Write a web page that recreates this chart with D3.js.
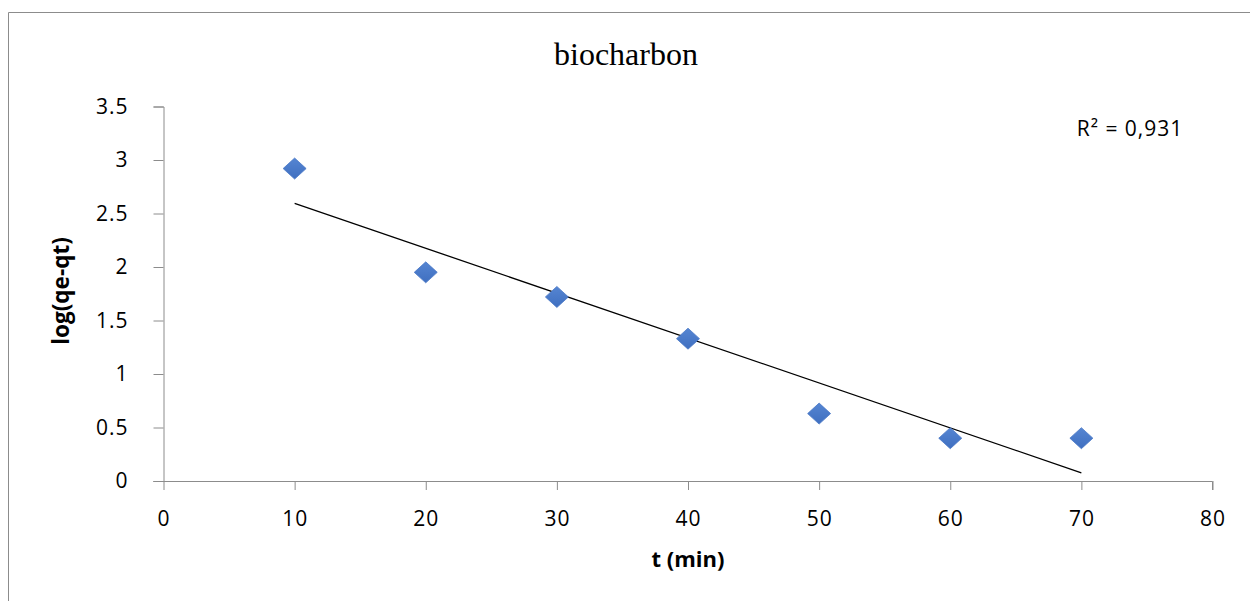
<!DOCTYPE html>
<html>
<head>
<meta charset="utf-8">
<script src="https://cdn.jsdelivr.net/npm/d3@7"></script>
<style>
  html, body { margin: 0; padding: 0; background: #fff; }
  svg { display: block; }
</style>
</head>
<body>
<svg id="chart" width="1250" height="601"></svg>
<script>
// Kinetic data: time (min) vs log(qe - qt)
const times = [10, 20, 30, 40, 50, 60, 70];
const logValues = [2.92, 1.95, 1.72, 1.33, 0.63, 0.40, 0.40];
const xTicks = [0, 10, 20, 30, 40, 50, 60, 70, 80];
const yTicks = [0, 0.5, 1, 1.5, 2, 2.5, 3, 3.5];
const titleText = "biocharbon";
const xLabel = "t (min)";
const yLabel = "log(qe-qt)";
const r2Text = "R² = 0,931";

const svg = d3.select("#chart");
const W = 1250, H = 601;
const plot = { left: 163.5, right: 1212.5, top: 106.5, bottom: 481 };

// Frame around the chart
svg.append("path")
  .attr("d", `M8.5,${H} V12.5 H${W}`)
  .attr("fill", "none").attr("stroke", "#8c8c8c").attr("stroke-width", 1);

const x = d3.scaleLinear().domain([0, 80]).range([plot.left, plot.right]);
const y = d3.scaleLinear().domain([0, 3.5]).range([plot.bottom, plot.top]);

const tickFont = "'Open Sans', 'Noto Sans', sans-serif";

// Axes
const xAxis = svg.append("g")
  .attr("transform", `translate(0,${plot.bottom})`)
  .call(d3.axisBottom(x).tickValues(xTicks).tickFormat(d3.format("d")).tickSizeOuter(0).tickSize(9).tickPadding(21));
const yAxis = svg.append("g")
  .attr("transform", `translate(${plot.left},0)`)
  .call(d3.axisLeft(y).tickValues(yTicks).tickFormat(d => String(d)).tickSizeOuter(0).tickSize(10).tickPadding(25));

[xAxis, yAxis].forEach(g => {
  g.select(".domain").attr("stroke", "#8c8c8c");
  g.selectAll(".tick line").attr("stroke", "#8c8c8c");
  g.selectAll(".tick text")
    .attr("fill", "#000")
    .style("font-family", tickFont)
    .style("font-size", "21px")
    .style("letter-spacing", "1px");
});
// x-axis line starts at the y-axis tick length
xAxis.select(".domain").attr("d", `M${plot.left - 10},0.5H${plot.right}V9`);

// Linear regression trendline
const n = times.length;
const mx = d3.mean(times), my = d3.mean(logValues);
let sxy = 0, sxx = 0;
for (let i = 0; i < n; i++) {
  sxy += (times[i] - mx) * (logValues[i] - my);
  sxx += (times[i] - mx) ** 2;
}
const slope = sxy / sxx, intercept = my - slope * mx;
const x0 = d3.min(times), x1 = d3.max(times);
svg.append("line")
  .attr("x1", x(x0)).attr("y1", y(intercept + slope * x0))
  .attr("x2", x(x1)).attr("y2", y(intercept + slope * x1))
  .attr("stroke", "#000").attr("stroke-width", 1.3);

// Diamond markers
const defs = svg.append("defs");
const grad = defs.append("linearGradient").attr("id", "mk").attr("x1", 0).attr("y1", 0).attr("x2", 0).attr("y2", 1);
grad.append("stop").attr("offset", "0%").attr("stop-color", "#5585d2");
grad.append("stop").attr("offset", "100%").attr("stop-color", "#3f6fc0");

svg.append("g").selectAll("path")
  .data(times.map((t, i) => [t, logValues[i]]))
  .join("path")
  .attr("transform", d => `translate(${x(d[0])},${y(d[1])})`)
  .attr("d", "M0,-10.5 L11.5,0 L0,10.5 L-11.5,0 Z")
  .attr("fill", "url(#mk)")
  .attr("stroke", "#4a78c6").attr("stroke-width", 0.8)
  .style("filter", "blur(0.5px)");

// Title
svg.append("text")
  .attr("x", 626).attr("y", 65)
  .attr("text-anchor", "middle")
  .style("font-family", "'Liberation Serif', 'Times New Roman', serif")
  .style("font-size", "32px")
  .text(titleText);

// Axis titles
svg.append("text")
  .attr("x", 688).attr("y", 567)
  .attr("text-anchor", "middle")
  .style("font-family", tickFont).style("font-weight", "bold").style("font-size", "22px")
  .text(xLabel);
svg.append("text")
  .attr("transform", `translate(69,${291}) rotate(-90)`)
  .attr("text-anchor", "middle")
  .style("font-family", tickFont).style("font-weight", "bold").style("font-size", "22.5px")
  .text(yLabel);

// Goodness of fit label
svg.append("text")
  .attr("x", 1130).attr("y", 136)
  .attr("text-anchor", "middle")
  .style("font-family", tickFont).style("font-size", "21px")
  .style("letter-spacing", "1px")
  .text(r2Text);
</script>
</body>
</html>
